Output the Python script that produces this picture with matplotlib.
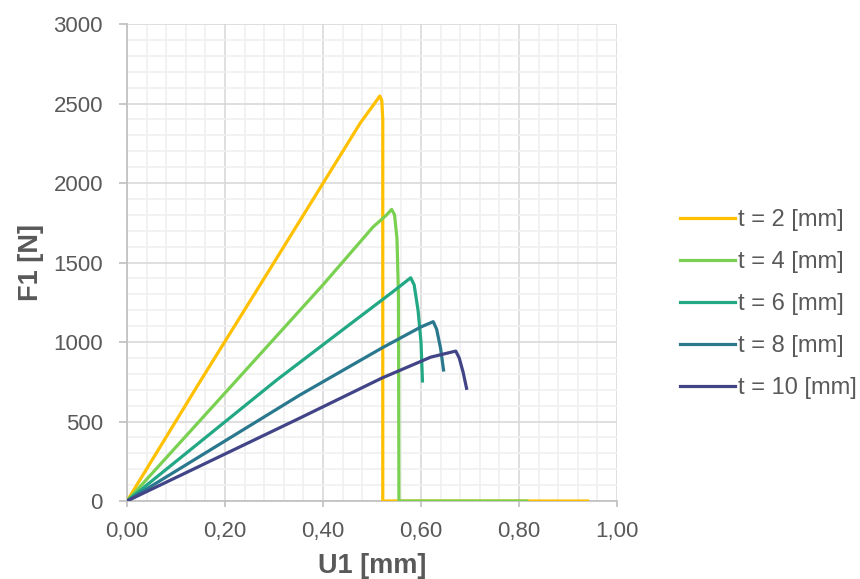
import matplotlib.pyplot as plt
from matplotlib.ticker import MultipleLocator, FuncFormatter

plt.rcParams['font.family'] = ['Liberation Sans', 'DejaVu Sans']

# displacement U1 [mm] / force F1 [N] per plate thickness
u_t2 = [0, 0.151, 0.30, 0.476, 0.505, 0.516, 0.520, 0.522, 0.522, 0.94]
f_t2 = [0, 761, 1500, 2377, 2500, 2547, 2520, 2400, 0, 0]

u_t4 = [0, 0.224, 0.40, 0.502, 0.530, 0.540, 0.546, 0.551, 0.554, 0.555, 0.816]
f_t4 = [0, 761, 1360, 1723, 1800, 1834, 1800, 1650, 1300, 0, 0]

u_t6 = [0, 0.3055, 0.45, 0.54, 0.579, 0.586, 0.594, 0.600, 0.603]
f_t6 = [0, 761, 1100, 1310, 1404, 1360, 1200, 1000, 755]

u_t8 = [0, 0.353, 0.52, 0.60, 0.625, 0.632, 0.640, 0.646]
f_t8 = [0, 667, 962, 1095, 1128, 1080, 960, 824]

u_t10 = [0, 0.353, 0.52, 0.62, 0.671, 0.678, 0.686, 0.693]
f_t10 = [0, 522, 773, 905, 943, 900, 810, 709]

labels = ['t = 2 [mm]', 't = 4 [mm]', 't = 6 [mm]', 't = 8 [mm]', 't = 10 [mm]']
colors = ['#FFC000', '#7AD151', '#22A884', '#2A788E', '#414487']

fig = plt.figure(figsize=(8.6, 5.79), dpi=100)
ax = fig.add_axes([0.1477, 0.1347, 0.5697, 0.8238])

series = [(u_t2, f_t2), (u_t4, f_t4), (u_t6, f_t6), (u_t8, f_t8), (u_t10, f_t10)]
for (u, f), lab, col in zip(series, labels, colors):
    ax.plot(u, f, color=col, lw=2.3, label=lab, solid_joinstyle='round', zorder=3)

ax.set_xlim(0, 1.0)
ax.set_ylim(0, 3000)
ax.xaxis.set_major_locator(MultipleLocator(0.2))
ax.xaxis.set_minor_locator(MultipleLocator(0.04))
ax.yaxis.set_major_locator(MultipleLocator(500))
ax.yaxis.set_minor_locator(MultipleLocator(100))
ax.xaxis.set_major_formatter(FuncFormatter(lambda v, p: f'{v:.2f}'.replace('.', ',')))

ax.grid(which='major', color='#d9d9d9', lw=1.2, zorder=0)
ax.grid(which='minor', color='#f0f0f0', lw=1.2, zorder=0)
ax.set_axisbelow(True)

for s in ['top', 'right']:
    ax.spines[s].set_visible(False)
for s in ['left', 'bottom']:
    ax.spines[s].set_color('#bfbfbf')
    ax.spines[s].set_linewidth(1.2)

ax.tick_params(which='major', color='#bfbfbf', width=1.2,
               labelsize=16, labelcolor='#595959')
ax.tick_params(axis='x', which='major', length=4.5, pad=10)
ax.tick_params(axis='y', which='major', length=5.8, pad=11.5)
ax.tick_params(which='minor', length=0)

ax.set_xlabel('U1 [mm]', fontsize=19.5, fontweight='bold', color='#595959', labelpad=8)
ax.set_ylabel('F1 [N]', fontsize=19.5, fontweight='bold', color='#595959', labelpad=7)

leg = ax.legend(loc='center left', bbox_to_anchor=(1.1286, 0.413), frameon=False,
                fontsize=17, handlelength=2.35, handletextpad=0.12, labelspacing=0.85,
                borderpad=0, borderaxespad=0)
for t in leg.get_texts():
    t.set_color('#595959')

fig.savefig('out.png', dpi=100)
